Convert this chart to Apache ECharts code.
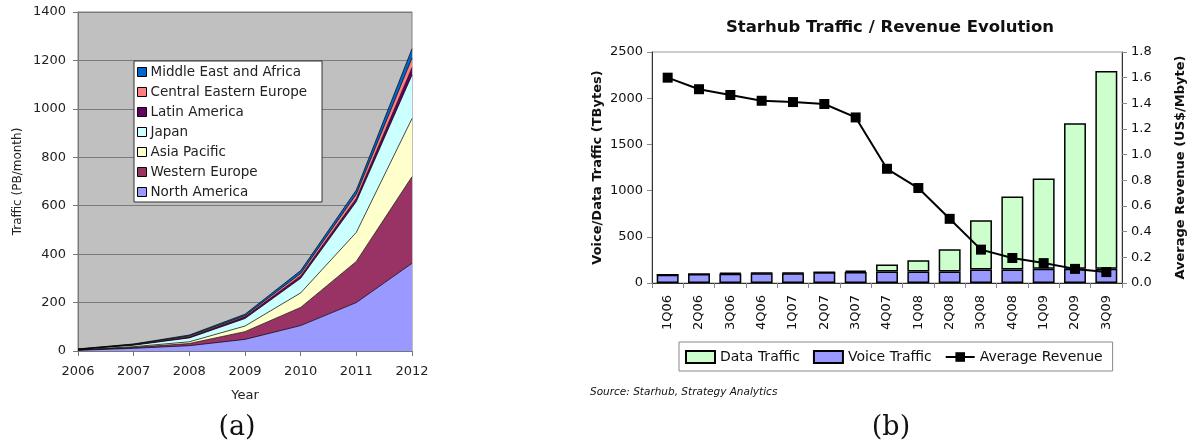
<!DOCTYPE html>
<html>
<head>
<meta charset="utf-8">
<script src="https://cdn.jsdelivr.net/npm/echarts@6/dist/echarts.min.js"></script>
<style>
html,body{margin:0;padding:0;background:#fff;}
#c{width:1197px;height:446px;}
</style>
</head>
<body>
<div id="c"></div>
<script>
// ---- Chart (a) data ----
const years = ['2006','2007','2008','2009','2010','2011','2012'];
const northAmerica = [3, 11, 22, 48, 105, 200, 362];
const westernEurope = [1, 4, 9, 32, 75, 170, 358];
const asiaPacific = [1, 3, 7, 23, 60, 120, 240];
const japan = [2, 6, 16, 31, 60, 127, 180];
const latinAmerica = [0.5, 2, 4, 7, 10, 13, 30];
const centralEasternEurope = [0.5, 2, 4, 5, 10, 18, 40];
const middleEastAfrica = [0.5, 1, 4, 6, 12, 17, 38];
const trafficTicks = [0, 200, 400, 600, 800, 1000, 1200, 1400];

// ---- Chart (b) data ----
const quarters = ['1Q06','2Q06','3Q06','4Q06','1Q07','2Q07','3Q07','4Q07','1Q08','2Q08','3Q08','4Q08','1Q09','2Q09','3Q09'];
const voiceTraffic = [88, 97, 100, 105, 105, 115, 120, 125, 125, 125, 145, 145, 155, 155, 155];
const dataTraffic = [0, 0, 10, 5, 5, 3, 15, 75, 120, 240, 535, 790, 975, 1575, 2140];
const avgRevenue = [1.60, 1.51, 1.465, 1.42, 1.41, 1.395, 1.29, 0.89, 0.74, 0.50, 0.26, 0.195, 0.155, 0.11, 0.085];

const FONT = 'DejaVu Sans';
const chart = echarts.init(document.getElementById('c'), null, {renderer: 'canvas'});

function area(name, data, color) {
  return {
    name: name, type: 'line', stack: 'traffic', xAxisIndex: 0, yAxisIndex: 0,
    data: data, symbol: 'none', smooth: false,
    itemStyle: {color: color},
    lineStyle: {color: '#000', width: 0.7},
    areaStyle: {color: color, opacity: 1},
    emphasis: {disabled: true}
  };
}

const option = {
  animation: false,
  grid: [
    {left: 78, top: 12, width: 334, height: 339, show: true, backgroundColor: '#c0c0c0', borderColor: '#808080', borderWidth: 1},
    {left: 652, top: 52, width: 470, height: 231, show: true, backgroundColor: 'transparent', borderColor: '#9a9a9a', borderWidth: 1}
  ],
  xAxis: [
    {
      gridIndex: 0, type: 'category', data: years, boundaryGap: false,
      name: 'Year', nameLocation: 'middle', nameGap: 38,
      nameTextStyle: {fontFamily: FONT, fontSize: 13, color: '#222'},
      axisLine: {lineStyle: {color: '#777', width: 1}},
      axisTick: {show: true, length: 5, lineStyle: {color: '#777'}},
      axisLabel: {fontFamily: FONT, fontSize: 13, color: '#222', margin: 14},
      splitLine: {show: false}
    },
    {
      gridIndex: 1, type: 'category', data: quarters, boundaryGap: true,
      axisLine: {lineStyle: {color: '#333', width: 1}},
      axisTick: {show: true, length: 5, lineStyle: {color: '#888'}},
      axisLabel: {fontFamily: FONT, fontSize: 13, color: '#111', rotate: 90, margin: 12},
      splitLine: {show: false}
    }
  ],
  yAxis: [
    {
      gridIndex: 0, type: 'value', min: trafficTicks[0], max: trafficTicks[trafficTicks.length - 1], interval: 200,
      name: 'Traffic (PB/month)', nameLocation: 'middle', nameGap: 54,
      nameTextStyle: {fontFamily: FONT, fontSize: 12, color: '#222'},
      axisLine: {show: true, lineStyle: {color: '#777'}},
      axisTick: {show: true, length: 5, lineStyle: {color: '#777'}},
      axisLabel: {fontFamily: FONT, fontSize: 13, color: '#222', margin: 12, formatter: v => String(v)},
      splitLine: {show: true, lineStyle: {color: '#7a7a7a', width: 1}}
    },
    {
      gridIndex: 1, type: 'value', min: 0, max: 2500, interval: 500, position: 'left',
      name: 'Voice/Data Traffic (TBytes)', nameLocation: 'middle', nameGap: 48,
      nameTextStyle: {fontFamily: FONT, fontSize: 13, fontWeight: 'bold', color: '#111'},
      axisLine: {show: true, lineStyle: {color: '#333'}},
      axisTick: {show: true, length: 5, lineStyle: {color: '#888'}},
      axisLabel: {fontFamily: FONT, fontSize: 13, color: '#111', margin: 9, formatter: v => String(v)},
      splitLine: {show: false}
    },
    {
      gridIndex: 1, type: 'value', min: 0, max: 1.8, interval: 0.2, position: 'right',
      name: 'Average Revenue (US$/Mbyte)', nameLocation: 'middle', nameGap: 52,
      nameRotate: 90,
      nameTextStyle: {fontFamily: FONT, fontSize: 13, fontWeight: 'bold', color: '#111'},
      axisLine: {show: true, lineStyle: {color: '#333'}},
      axisTick: {show: true, length: 5, lineStyle: {color: '#888'}},
      axisLabel: {fontFamily: FONT, fontSize: 13, color: '#111', margin: 9, formatter: v => v.toFixed(1)},
      splitLine: {show: false}
    }
  ],
  legend: [
    {
      left: 134, top: 61, orient: 'vertical',
      data: ['Middle East and Africa','Central Eastern Europe','Latin America','Japan','Asia Pacific','Western Europe','North America'],
      icon: 'rect', itemWidth: 9, itemHeight: 9, itemGap: 6,
      itemStyle: {borderColor: '#000', borderWidth: 1},
      backgroundColor: '#fff', borderColor: '#333', borderWidth: 1,
      padding: [4, 15, 3, 3],
      textStyle: {fontFamily: FONT, fontSize: 13.5, color: '#222', padding: [0, 0, 0, -1]},
      selectedMode: false
    },
    {
      left: 679, top: 342, orient: 'horizontal',
      data: [
        {name: 'Data Traffic', icon: 'rect'},
        {name: 'Voice Traffic', icon: 'rect'},
        {name: 'Average Revenue'}
      ],
      itemWidth: 29, itemHeight: 12, itemGap: 13,
      backgroundColor: '#fff', borderColor: '#888', borderWidth: 1,
      padding: [8, 10, 7, 6],
      textStyle: {fontFamily: FONT, fontSize: 14, color: '#111'},
      selectedMode: false
    }
  ],
  series: [
    area('North America', northAmerica, '#9999ff'),
    area('Western Europe', westernEurope, '#993366'),
    area('Asia Pacific', asiaPacific, '#ffffcc'),
    area('Japan', japan, '#ccffff'),
    area('Latin America', latinAmerica, '#660066'),
    area('Central Eastern Europe', centralEasternEurope, '#ff8080'),
    area('Middle East and Africa', middleEastAfrica, '#0066cc'),
    {
      name: 'Voice Traffic', type: 'bar', stack: 'tb', xAxisIndex: 1, yAxisIndex: 1,
      data: voiceTraffic, barCategoryGap: '30%',
      itemStyle: {color: '#9999ff', borderColor: '#000', borderWidth: 1.5}
    },
    {
      name: 'Data Traffic', type: 'bar', stack: 'tb', xAxisIndex: 1, yAxisIndex: 1,
      data: dataTraffic, barCategoryGap: '30%',
      itemStyle: {color: '#ccffcc', borderColor: '#000', borderWidth: 1.5}
    },
    {
      name: 'Average Revenue', type: 'line', xAxisIndex: 1, yAxisIndex: 2,
      data: avgRevenue, symbol: 'rect', symbolSize: 10, z: 5,
      itemStyle: {color: '#000'},
      lineStyle: {color: '#000', width: 2}
    }
  ],
  graphic: [
    {type: 'text', x: 890, y: 28, style: {text: 'Starhub Traffic / Revenue Evolution', font: 'bold 16.5px "DejaVu Sans"', fill: '#111', textAlign: 'center', textVerticalAlign: 'middle'}},
    {type: 'text', x: 590, y: 392, style: {text: 'Source: Starhub, Strategy Analytics', font: 'italic 10.5px "DejaVu Sans"', fill: '#111', textVerticalAlign: 'middle'}},
    {type: 'text', x: 237, y: 428, style: {text: '(a)', font: '27px "DejaVu Serif"', fill: '#111', textAlign: 'center', textVerticalAlign: 'middle'}},
    {type: 'text', x: 891, y: 428, style: {text: '(b)', font: '27px "DejaVu Serif"', fill: '#111', textAlign: 'center', textVerticalAlign: 'middle'}}
  ]
};
chart.setOption(option);
</script>
</body>
</html>
